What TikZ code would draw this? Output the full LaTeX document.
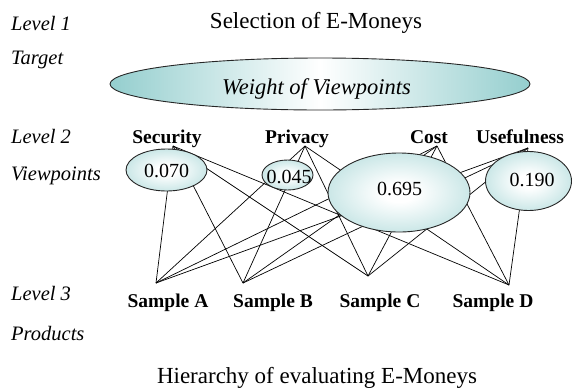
\documentclass[tikz,border=0pt]{standalone}
\usepackage{fontspec}
\setmainfont{Liberation Serif}
\usetikzlibrary{shapes.geometric}
\definecolor{tealc}{RGB}{148,206,206}
\pgfdeclareradialshading{vpshade}{\pgfpoint{0bp}{0bp}}{color(0bp)=(white); color(6bp)=(white); color(45bp)=(tealc); color(50bp)=(tealc)}
\begin{document}
\begin{tikzpicture}[x=1pt,y=-1pt,
  lvl/.style={font=\fontsize{20.5}{22}\selectfont\itshape, anchor=base west, inner sep=0pt},
  crit/.style={font=\fontsize{19.5}{21}\selectfont\bfseries, anchor=base, inner sep=0pt},
  num/.style={font=\fontsize{20}{22}\selectfont, anchor=base, inner sep=0pt},
  ttl/.style={font=\fontsize{23}{25}\selectfont, anchor=base, inner sep=0pt},
  vp/.style={ellipse, draw=black!85, line width=0.9pt, shade, shading=vpshade, inner sep=0pt},
  link/.style={line width=0.7pt, black}]
\useasboundingbox (0,0) rectangle (573,389);

% level labels
\node[lvl] (l1) at (11,30) {Level 1};
\node[lvl] (l1b) at (11,64) {Target};
\node[lvl] (l2) at (11,143) {Level 2};
\node[lvl] (l2b) at (11,180) {Viewpoints};
\node[lvl] (l3) at (11,300) {Level 3};
\node[lvl] (l3b) at (11,340) {Products};

% title
\node[ttl] (title) at (316,28) {Selection of E-Moneys};
\node[ellipse, draw=black!85, line width=0.9pt, left color=tealc, right color=tealc, middle color=white,
      minimum width=420pt, minimum height=52pt, inner sep=0pt] (wv) at (320,84) {};
\node[font=\fontsize{22.5}{24}\selectfont\itshape, anchor=base, inner sep=0pt] (wvt) at (316.5,94) {Weight of Viewpoints};

% connection points
\coordinate (pS) at (173,146);
\coordinate (pP) at (305,146);
\coordinate (pC) at (437,146);
\coordinate (pU) at (528,148);
\coordinate (qA) at (156,283);
\coordinate (qB) at (243,283);
\coordinate (qC) at (368,276);
\coordinate (qD) at (509,285);

\foreach \t in {pS,pP,pC,pU}
  \foreach \b in {qA,qB,qC,qD}
    \draw[link] (\t) -- (\b);

% viewpoint ellipses
\node[vp, minimum width=81pt, minimum height=42pt] (e1) at (166.5,170) {};
\node[vp, minimum width=51pt, minimum height=30pt] (e2) at (287.5,175) {};
\node[vp, minimum width=142pt, minimum height=79pt] (e3) at (399,192.5) {};
\node[vp, minimum width=86pt, minimum height=59pt] (e4) at (528.5,181) {};

\node[num] (n1) at (166.5,177) {0.070};
\node[num] (n2) at (289,183) {0.045};
\node[num] (n3) at (399.5,195) {0.695};
\node[num] (n4) at (532,186) {0.190};

% criteria labels
\node[crit] (cs) at (167,143) {Security};
\node[crit] (cp) at (297,143) {Privacy};
\node[crit] (cc) at (429,143) {Cost};
\node[crit] (cu) at (520,143) {Usefulness};

% sample labels
\node[crit] (sa) at (168,307) {Sample A};
\node[crit] (sb) at (273,307) {Sample B};
\node[crit] (sc) at (380,307) {Sample C};
\node[crit] (sd) at (493,307) {Sample D};

% caption
\node[ttl] (cap) at (317,383) {Hierarchy of evaluating E-Moneys};
\end{tikzpicture}
\end{document}
